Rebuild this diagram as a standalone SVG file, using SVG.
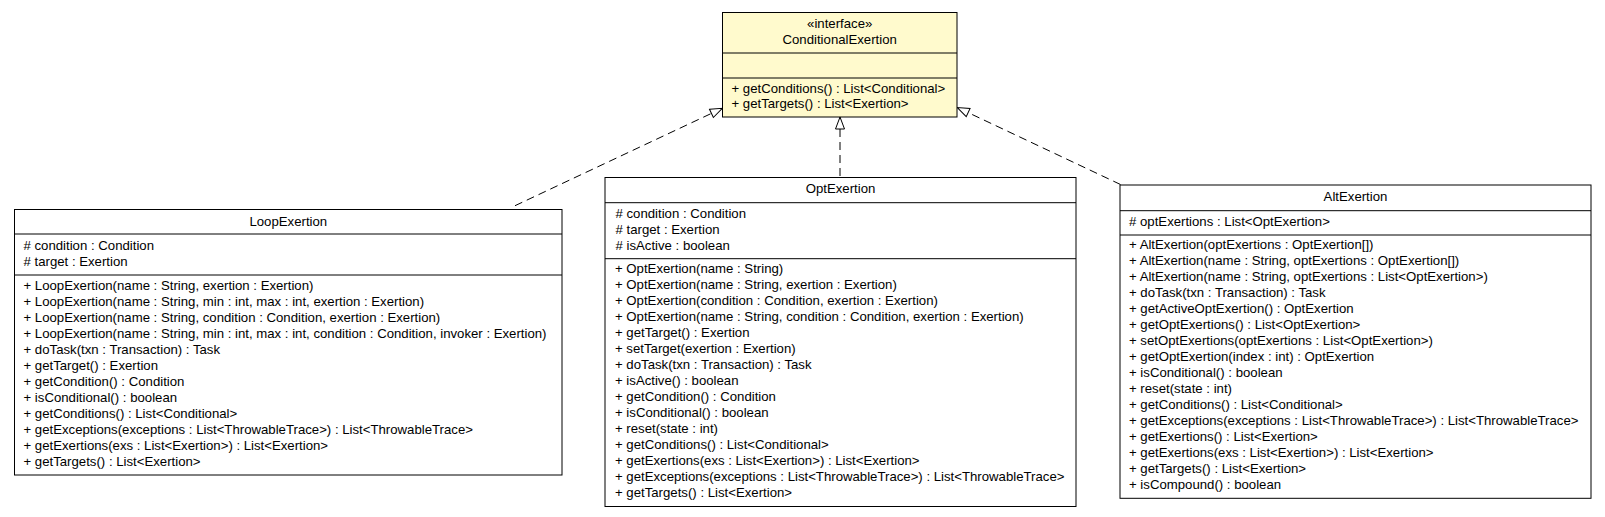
<svg xmlns="http://www.w3.org/2000/svg" width="1605" height="517" viewBox="0 0 1605 517">
<style>
text{font-family:"Liberation Sans",Arial,sans-serif;font-size:13.2px;fill:#000}
.c{text-anchor:middle}
.box{fill:#fff;stroke:#000;stroke-width:1}
.iface{fill:#fffacd;stroke:#000;stroke-width:1}
.div{stroke:#000;stroke-width:1}
.dep{fill:none;stroke:#000;stroke-width:1;stroke-dasharray:8,5}
</style>
<defs>
<marker id="real" markerUnits="userSpaceOnUse" markerWidth="14" markerHeight="11" refX="12.5" refY="5" orient="auto" overflow="visible">
<path d="M0.5,0.5 L12.5,5 L0.5,9.5 Z" fill="#fff" stroke="#000" stroke-width="1" stroke-dasharray="none"/>
</marker>
</defs>
<rect width="1605" height="517" fill="#fff"/>
<g id="connectors">
<path class="dep" d="M515,205.7 L722.3,108.3" marker-end="url(#real)"/>
<path class="dep" d="M840,176 L840,117" marker-end="url(#real)"/>
<path class="dep" d="M1120.5,184.5 L957.3,107.5" marker-end="url(#real)"/>
</g>
<g id="ConditionalExertion">
<rect class="iface" x="722.5" y="12.5" width="234.5" height="104.5"/>
<line class="div" x1="722.5" y1="53" x2="957" y2="53"/>
<line class="div" x1="722.5" y1="78" x2="957" y2="78"/>
<text class="c" x="839.7" y="27.5">«interface»</text>
<text class="c" x="839.7" y="44">ConditionalExertion</text>
<text x="731.5" y="92.5">+ getConditions() : List&lt;Conditional&gt;<tspan x="731.5" dy="15">+ getTargets() : List&lt;Exertion&gt;</tspan></text>
</g>
<g id="LoopExertion">
<rect class="box" x="14.5" y="209.5" width="547.5" height="265.5"/>
<line class="div" x1="14.5" y1="234" x2="562" y2="234"/>
<line class="div" x1="14.5" y1="275" x2="562" y2="275"/>
<text class="c" x="288.3" y="225.5">LoopExertion</text>
<text x="23.5" y="249.5"># condition : Condition<tspan x="23.5" dy="16"># target : Exertion</tspan></text>
<text x="23.5" y="289.5">+ LoopExertion(name : String, exertion : Exertion)<tspan x="23.5" dy="16">+ LoopExertion(name : String, min : int, max : int, exertion : Exertion)</tspan><tspan x="23.5" dy="16">+ LoopExertion(name : String, condition : Condition, exertion : Exertion)</tspan><tspan x="23.5" dy="16">+ LoopExertion(name : String, min : int, max : int, condition : Condition, invoker : Exertion)</tspan><tspan x="23.5" dy="16">+ doTask(txn : Transaction) : Task</tspan><tspan x="23.5" dy="16">+ getTarget() : Exertion</tspan><tspan x="23.5" dy="16">+ getCondition() : Condition</tspan><tspan x="23.5" dy="16">+ isConditional() : boolean</tspan><tspan x="23.5" dy="16">+ getConditions() : List&lt;Conditional&gt;</tspan><tspan x="23.5" dy="16">+ getExceptions(exceptions : List&lt;ThrowableTrace&gt;) : List&lt;ThrowableTrace&gt;</tspan><tspan x="23.5" dy="16">+ getExertions(exs : List&lt;Exertion&gt;) : List&lt;Exertion&gt;</tspan><tspan x="23.5" dy="16">+ getTargets() : List&lt;Exertion&gt;</tspan></text>
</g>
<g id="OptExertion">
<rect class="box" x="605" y="177.5" width="471" height="329"/>
<line class="div" x1="605" y1="202.7" x2="1076" y2="202.7"/>
<line class="div" x1="605" y1="258.7" x2="1076" y2="258.7"/>
<text class="c" x="840.5" y="193">OptExertion</text>
<text x="615.5" y="217.7"># condition : Condition<tspan x="615.5" dy="16"># target : Exertion</tspan><tspan x="615.5" dy="16"># isActive : boolean</tspan></text>
<text x="615" y="273.3">+ OptExertion(name : String)<tspan x="615" dy="16">+ OptExertion(name : String, exertion : Exertion)</tspan><tspan x="615" dy="16">+ OptExertion(condition : Condition, exertion : Exertion)</tspan><tspan x="615" dy="16">+ OptExertion(name : String, condition : Condition, exertion : Exertion)</tspan><tspan x="615" dy="16">+ getTarget() : Exertion</tspan><tspan x="615" dy="16">+ setTarget(exertion : Exertion)</tspan><tspan x="615" dy="16">+ doTask(txn : Transaction) : Task</tspan><tspan x="615" dy="16">+ isActive() : boolean</tspan><tspan x="615" dy="16">+ getCondition() : Condition</tspan><tspan x="615" dy="16">+ isConditional() : boolean</tspan><tspan x="615" dy="16">+ reset(state : int)</tspan><tspan x="615" dy="16">+ getConditions() : List&lt;Conditional&gt;</tspan><tspan x="615" dy="16">+ getExertions(exs : List&lt;Exertion&gt;) : List&lt;Exertion&gt;</tspan><tspan x="615" dy="16">+ getExceptions(exceptions : List&lt;ThrowableTrace&gt;) : List&lt;ThrowableTrace&gt;</tspan><tspan x="615" dy="16">+ getTargets() : List&lt;Exertion&gt;</tspan></text>
</g>
<g id="AltExertion">
<rect class="box" x="1120" y="185" width="471" height="313.3"/>
<line class="div" x1="1120" y1="210.7" x2="1591" y2="210.7"/>
<line class="div" x1="1120" y1="235" x2="1591" y2="235"/>
<text class="c" x="1355.5" y="201">AltExertion</text>
<text x="1129" y="225.7"># optExertions : List&lt;OptExertion&gt;</text>
<text x="1129" y="249.3">+ AltExertion(optExertions : OptExertion[])<tspan x="1129" dy="16">+ AltExertion(name : String, optExertions : OptExertion[])</tspan><tspan x="1129" dy="16">+ AltExertion(name : String, optExertions : List&lt;OptExertion&gt;)</tspan><tspan x="1129" dy="16">+ doTask(txn : Transaction) : Task</tspan><tspan x="1129" dy="16">+ getActiveOptExertion() : OptExertion</tspan><tspan x="1129" dy="16">+ getOptExertions() : List&lt;OptExertion&gt;</tspan><tspan x="1129" dy="16">+ setOptExertions(optExertions : List&lt;OptExertion&gt;)</tspan><tspan x="1129" dy="16">+ getOptExertion(index : int) : OptExertion</tspan><tspan x="1129" dy="16">+ isConditional() : boolean</tspan><tspan x="1129" dy="16">+ reset(state : int)</tspan><tspan x="1129" dy="16">+ getConditions() : List&lt;Conditional&gt;</tspan><tspan x="1129" dy="16">+ getExceptions(exceptions : List&lt;ThrowableTrace&gt;) : List&lt;ThrowableTrace&gt;</tspan><tspan x="1129" dy="16">+ getExertions() : List&lt;Exertion&gt;</tspan><tspan x="1129" dy="16">+ getExertions(exs : List&lt;Exertion&gt;) : List&lt;Exertion&gt;</tspan><tspan x="1129" dy="16">+ getTargets() : List&lt;Exertion&gt;</tspan><tspan x="1129" dy="16">+ isCompound() : boolean</tspan></text>
</g>
</svg>
